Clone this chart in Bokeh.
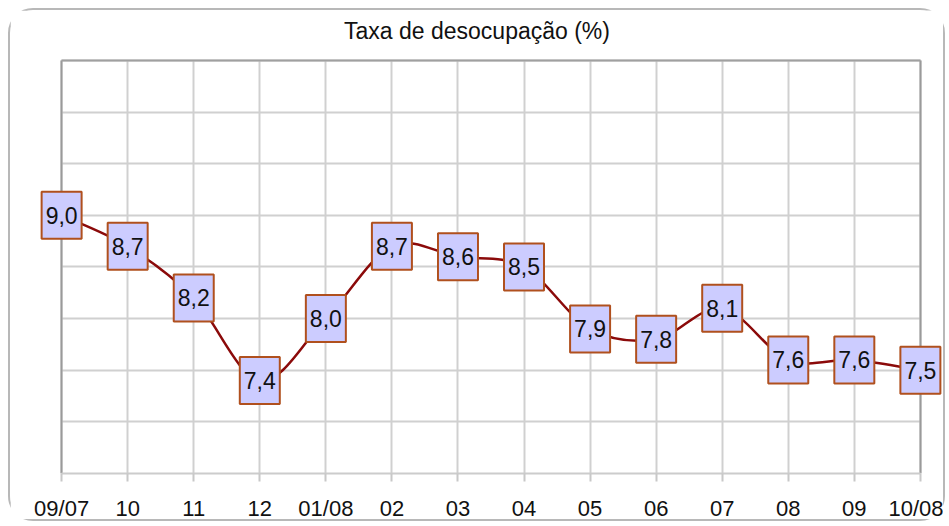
from bokeh.plotting import figure
from bokeh.models import Range1d, FixedTicker, ColumnDataSource, Grid, Label
from bokeh.core.properties import value
from bokeh.embed import file_html
from bokeh.resources import INLINE

# ---- data ----
months = ["09/07", "10", "11", "12", "01/08", "02", "03", "04", "05", "06", "07", "08", "09", "10/08"]
rates = [9.0, 8.7, 8.2, 7.4, 8.0, 8.7, 8.6, 8.5, 7.9, 7.8, 8.1, 7.6, 7.6, 7.5]
y_ticks = [6.5, 7.0, 7.5, 8.0, 8.5, 9.0, 9.5, 10.0, 10.5]
title_text = "Taxa de desocupação (%)"

xs = list(range(len(months)))
labels = [f"{v:.1f}".replace(".", ",") for v in rates]
x_first, x_last = xs[0], xs[-1]
y_lo, y_hi = y_ticks[0], y_ticks[-1]
x_pad = 0.35   # room so edge value boxes are not clipped
y_pad = 0.484  # room above the grid for the title

# smoothed (bezier) segments built from the data points
n = len(xs)
seg = dict(x0=[], y0=[], x1=[], y1=[], cx0=[], cy0=[], cx1=[], cy1=[])
for i in range(n - 1):
    xm, ym = (xs[i - 1], rates[i - 1]) if i > 0 else (xs[i], rates[i])
    xp, yp = (xs[i + 2], rates[i + 2]) if i + 2 < n else (xs[i + 1], rates[i + 1])
    seg["x0"].append(xs[i]); seg["y0"].append(rates[i])
    seg["x1"].append(xs[i + 1]); seg["y1"].append(rates[i + 1])
    seg["cx0"].append(xs[i] + (xs[i + 1] - xm) / 6.0)
    seg["cy0"].append(rates[i] + (rates[i + 1] - ym) / 6.0)
    seg["cx1"].append(xs[i + 1] - (xp - xs[i]) / 6.0)
    seg["cy1"].append(rates[i + 1] - (yp - rates[i]) / 6.0)

p = figure(width=937, height=513,
           x_range=Range1d(x_first - x_pad, x_last + x_pad),
           y_range=Range1d(y_lo, y_hi + y_pad),
           x_axis_location="below", y_axis_location=None,
           output_backend="svg", toolbar_location=None,
           min_border_left=28, min_border_right=4, min_border_top=0, min_border_bottom=50)
p.styles = {"border": "2px solid #b8b8b8", "border-radius": "25px",
            "margin-left": "8px", "margin-top": "8px"}
p.background_fill_color = "white"
p.border_fill_color = "white"
p.outline_line_color = None

# title, placed above the grid inside the drawing area
p.add_layout(Label(x=(x_first + x_last) / 2, y=y_hi, x_offset=-14, y_offset=29,
                   text=title_text, text_align="center", text_baseline="middle",
                   text_font="Liberation Sans", text_font_size="23px", text_color="#111111"))

# x axis
p.xaxis.ticker = FixedTicker(ticks=xs)
p.xaxis.bounds = (x_first, x_last)
p.xaxis.major_label_overrides = {i: m for i, m in zip(xs, months)}
p.xaxis.major_label_text_font = "Liberation Sans"
p.xaxis.major_label_text_font_size = "22px"
p.xaxis.major_label_text_color = "#111111"
p.xaxis.major_label_standoff = 14
p.xaxis.major_tick_out = 8
p.xaxis.major_tick_in = 0
p.xaxis.major_tick_line_color = "#c8c8c8"
p.xaxis.major_tick_line_width = 2
p.xaxis.minor_tick_line_color = None
p.xaxis.axis_line_color = "#cccccc"
p.xaxis.axis_line_width = 2

# light grid
p.xgrid.ticker = FixedTicker(ticks=xs)
p.xgrid.cross_bounds = (y_lo, y_hi)
p.ygrid.ticker = FixedTicker(ticks=y_ticks)
p.ygrid.cross_bounds = (x_first, x_last)
p.grid.grid_line_color = "#d0d0d0"
p.grid.grid_line_width = 2

# darker plot-area border (left, right, top), drawn beneath the marks
p.add_layout(Grid(dimension=0, ticker=FixedTicker(ticks=[x_first, x_last]),
                  cross_bounds=(y_lo, y_hi), grid_line_color="#9a9a9a", grid_line_width=2), "center")
p.add_layout(Grid(dimension=1, ticker=FixedTicker(ticks=[y_hi]),
                  cross_bounds=(x_first, x_last), grid_line_color="#a0a0a0", grid_line_width=2), "center")

# smoothed line
p.bezier(x0="x0", y0="y0", x1="x1", y1="y1", cx0="cx0", cy0="cy0", cx1="cx1", cy1="cy1",
         source=ColumnDataSource(seg), line_color="#8b0a0a", line_width=2.5)

# value boxes
src = ColumnDataSource(dict(x=xs, y=rates, lab=labels))
p.rect(x="x", y="y", width=40, height=47, width_units="screen", height_units="screen",
       source=src, fill_color="#ccccff", line_color="#b0501e", line_width=2)
p.text(x="x", y="y", text="lab", source=src, text_align="center", text_baseline="middle",
       text_font=value("Liberation Sans"), text_font_size="23px", text_color="#111111")

open("out.html", "w").write(file_html(p, INLINE))
